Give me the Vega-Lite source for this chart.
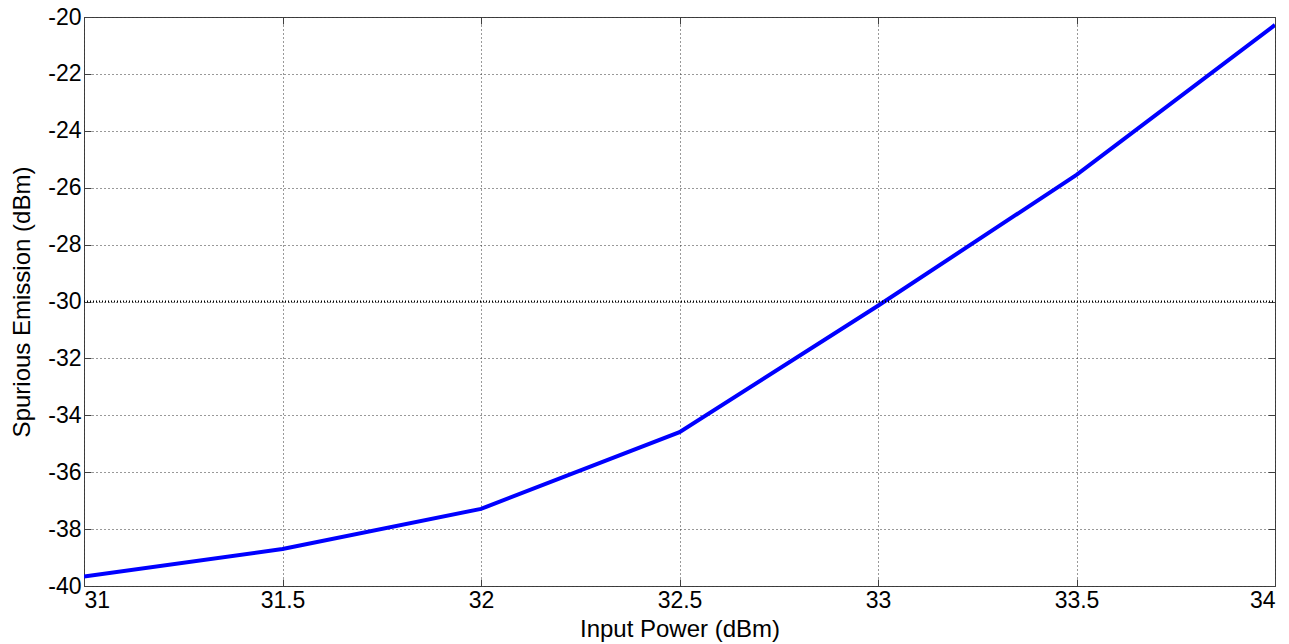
{
  "$schema": "https://vega.github.io/schema/vega-lite/v6.json",
  "width": 1191,
  "height": 569,
  "autosize": {"type": "none"},
  "padding": {"left": 84, "top": 17, "right": 14, "bottom": 58},
  "background": "white",
  "config": {
    "font": "Liberation Sans",
    "view": {"stroke": "#404040", "strokeWidth": 1},
    "axis": {
      "domain": false,
      "grid": true,
      "gridColor": "#333333",
      "gridDash": [1, 3],
      "gridWidth": 1,
      "tickColor": "#404040",
      "tickSize": -7,
      "tickWidth": 1,
      "labelFont": "Liberation Sans",
      "labelFontSize": 23,
      "labelColor": "black",
      "titleFont": "Liberation Sans",
      "titleFontSize": 24,
      "titleFontWeight": "normal",
      "titleColor": "black"
    }
  },
  "resolve": {"axis": {"x": "independent", "y": "independent"}},
  "layer": [
    {
      "data": {
        "values": [
          {"input_power": 31.0, "spurious_emission": -39.67},
          {"input_power": 31.5, "spurious_emission": -38.7},
          {"input_power": 32.0, "spurious_emission": -37.29},
          {"input_power": 32.5, "spurious_emission": -34.59},
          {"input_power": 33.0, "spurious_emission": -30.15},
          {"input_power": 33.5, "spurious_emission": -25.55},
          {"input_power": 34.0, "spurious_emission": -20.28}
        ]
      },
      "mark": {"type": "line", "color": "#0000ff", "strokeWidth": 4, "clip": true},
      "encoding": {
        "x": {
          "field": "input_power",
          "type": "quantitative",
          "scale": {"domain": [31, 34], "nice": false, "zero": false},
          "axis": {
            "title": "Input Power (dBm)",
            "values": [31, 31.5, 32, 32.5, 33, 33.5, 34],
            "labelExpr": "'' + datum.value",
            "labelPadding": 10,
            "titlePadding": 5
          }
        },
        "y": {
          "field": "spurious_emission",
          "type": "quantitative",
          "scale": {"domain": [-40, -20], "nice": false, "zero": false},
          "axis": {
            "title": "Spurious Emission (dBm)",
            "values": [-40, -38, -36, -34, -32, -30, -28, -26, -24, -22, -20],
            "labelExpr": "'' + datum.value",
            "labelPadding": 10,
            "titlePadding": 13
          }
        }
      }
    },
    {
      "data": {"values": [{"spec_limit": -30, "from_power": 31, "to_power": 34}]},
      "mark": {"type": "rule", "color": "black", "strokeWidth": 2, "strokeDash": [1, 2]},
      "encoding": {
        "x": {
          "field": "from_power",
          "type": "quantitative",
          "axis": {
            "orient": "top",
            "title": null,
            "labels": false,
            "grid": false,
            "values": [31, 31.5, 32, 32.5, 33, 33.5, 34]
          }
        },
        "x2": {"field": "to_power"},
        "y": {
          "field": "spec_limit",
          "type": "quantitative",
          "axis": {
            "orient": "right",
            "title": null,
            "labels": false,
            "grid": false,
            "values": [-40, -38, -36, -34, -32, -30, -28, -26, -24, -22, -20]
          }
        }
      }
    }
  ]
}
